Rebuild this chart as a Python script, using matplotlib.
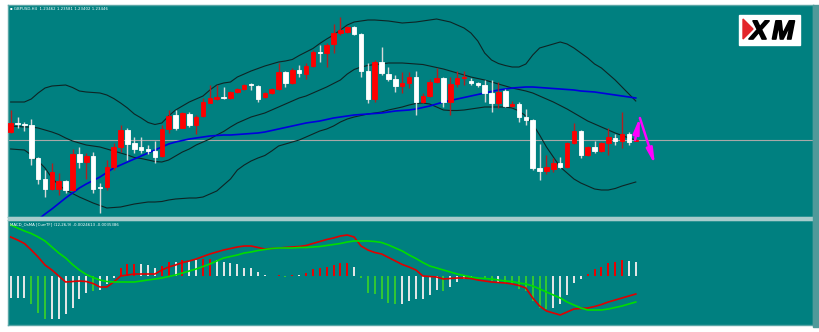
# -*- coding: utf-8 -*-
# GBPUSD H4 con Bollinger, media lenta y MACD_OsMA (estilo MT4)
import numpy as np
import matplotlib.pyplot as plt
from matplotlib.patches import Rectangle, Polygon
import matplotlib.patheffects as pe

#==============================================================================
#- datos (precios en pips sobre 1.20000)
#==============================================================================
opens = [353, 362, 361, 360, 327, 306, 296, 296, 304, 295,
         331, 323, 329, 298, 298, 318, 338, 355, 342, 338,
         336, 334, 329, 356, 370, 357, 371, 360, 369, 382,
         386, 388, 387, 393, 396, 401, 399, 388, 392, 396,
         413, 402, 415, 411, 419, 433, 432, 441, 452, 453,
         458, 451, 414, 386, 423, 411, 406, 399, 402, 408,
         383, 389, 403, 407, 383, 401, 407, 404, 402, 400,
         392, 382, 394, 379, 381, 368, 365, 317, 314, 316,
         322, 318, 342, 354, 330, 338, 334, 342, 347, 344, 351, 344]
highs = [375, 368, 363, 366, 328, 315, 322, 312, 305, 336,
         338, 332, 333, 302, 325, 342, 360, 357, 348, 348,
         340, 344, 360, 375, 375, 373, 373, 370, 387, 400,
         400, 398, 394, 397, 401, 402, 400, 393, 397, 422,
         414, 417, 420, 422, 435, 440, 442, 461, 468, 459,
         459, 452, 422, 425, 438, 418, 410, 413, 413, 414,
         392, 406, 417, 408, 408, 414, 414, 407, 403, 405,
         405, 403, 396, 384, 383, 376, 366, 341, 330, 327,
         328, 343, 362, 355, 339, 344, 343, 357, 351, 373, 353, 346]
lows = [352, 357, 354, 320, 301, 288, 295, 290, 292, 294,
        317, 306, 292, 272, 295, 315, 333, 325, 332, 332,
        331, 322, 328, 352, 355, 357, 358, 351, 368, 382,
        385, 386, 386, 392, 395, 395, 383, 387, 391, 395,
        398, 401, 408, 406, 418, 423, 418, 432, 450, 452,
        450, 408, 382, 383, 410, 404, 393, 392, 397, 370,
        382, 388, 402, 378, 370, 398, 400, 400, 398, 383,
        373, 377, 378, 378, 363, 360, 315, 305, 311, 313,
        317, 317, 341, 327, 329, 332, 333, 330, 340, 337, 340, 344]
closes = [362, 361, 360, 327, 306, 296, 313, 304, 295, 331,
          323, 329, 296, 297, 318, 338, 355, 341, 336, 335,
          334, 328, 356, 369, 357, 372, 360, 368, 383, 387,
          387.5, 387, 393, 396, 400, 400, 386, 392, 396, 413,
          402, 415, 412, 419, 433, 432, 440, 452, 455, 458,
          451, 414, 386, 423, 412, 406, 399, 402, 408, 383,
          389, 403, 407, 383, 401, 407, 408, 402, 400, 392,
          382, 393, 379, 381, 368, 365, 317, 314, 318, 322,
          318, 342, 354, 330, 338, 334, 342, 348, 344, 351, 343, 345]

bb_upper = [383, 383, 383, 386, 392, 397, 399, 399.5, 400, 397.5,
            394, 393, 392.5, 392, 390, 386.5, 382, 377, 371, 367,
            362.5, 360.5, 362, 369, 375, 379, 383, 386, 389, 395,
            400, 402, 403, 408, 411, 414, 416.5, 419, 421, 423,
            424, 425.5, 429.5, 433, 436.5, 441.5, 446, 450, 455, 460,
            463, 464, 465, 465, 464.5, 464, 463, 462, 462.5, 463,
            464, 465, 466, 464.5, 463, 460, 457, 452, 444, 432,
            425, 421.5, 419.5, 418, 418, 421, 430, 437, 439, 441,
            443, 441, 437, 432, 427, 421, 417, 411, 405, 398, 391, 384]
bb_mid = [359, 358.5, 358, 358, 357, 355, 353, 350.5, 347, 344,
          342, 340, 339, 338, 336, 334, 332, 330, 327.5, 326.5,
          325, 323.5, 323, 325, 329, 333, 336, 340, 343, 346,
          350, 353.5, 358, 362, 365, 368, 370, 372, 375, 378,
          381, 384, 387, 389, 392, 395, 398, 401.5, 405, 411,
          415.5, 418, 419.5, 420.5, 421, 422, 422, 422, 421.5, 421,
          420.5, 419, 417.5, 416, 414, 412, 410, 408, 406.5, 405,
          403, 401, 399, 397, 395.5, 394, 392, 389, 386, 383,
          379.5, 376, 372, 368, 364, 361, 358, 355, 352, 349.5, 347, 345]
bb_lower = [336, 335.5, 335, 330, 324, 317, 307, 300, 295, 291.5,
            288, 285, 282, 279.5, 277, 277.5, 278, 279.5, 281, 282,
            283, 283, 283.5, 285, 286, 286.5, 287, 287, 288, 291,
            294, 300, 306, 315, 320, 324, 327, 329.5, 334, 339,
            341, 343, 345, 348, 351, 354, 356, 359, 363, 366,
            368, 369.5, 371, 372, 373, 375, 376.5, 378, 380, 381.5,
            382, 381, 378, 375, 374.5, 374.5, 375, 376, 377, 378,
            378, 378, 378, 377, 374, 369, 361, 350, 338, 328,
            318, 312, 306, 302, 299, 296, 295, 295, 296.5, 299, 301, 303]
ma_slow = [244, 249, 255, 260, 265.5, 271, 276, 281.5, 287, 292,
           297, 301, 304.5, 308, 312.5, 317, 320, 323, 326, 329,
           332, 335, 338, 341, 343, 344.5, 346, 347, 348, 349,
           349.5, 350, 350, 350.5, 351, 351.5, 352, 353, 354.5, 356,
           357.5, 359, 360.5, 362, 363, 364, 365.5, 367, 368, 369,
           370, 370.5, 371, 371.5, 372, 373, 374, 374.5, 375, 376,
           377.5, 379, 381, 383, 384.5, 386, 387.5, 389, 390.5, 392,
           393.5, 395, 396, 397, 397.5, 398, 398, 397.5, 397, 396.5,
           396, 395.5, 395, 394, 393.5, 393, 392, 391, 390, 389, 388, 387]

# MACD_OsMA (12,26,9) en unidades de 0.0001
macd_main = [39, 36, 32.5, 26, 19, 11, 6, 0, -6, -5.5,
             -5, -5.5, -7.5, -11, -11, -6, 0, 1, 2, 2,
             2, 2, 6, 9, 11, 13.5, 15, 17, 19.5, 22,
             24, 26, 27.5, 29, 30, 30, 28.5, 27, 27.5, 28,
             28.5, 29, 29.5, 30.5, 32.5, 34.5, 36.5, 38, 40, 41,
             39, 30, 26, 23.5, 22, 18.5, 15, 11.5, 9, 6,
             0, -0.5, -1, -3, -2.5, -2, -2, -2.5, -4, -5,
             -6, -6.5, -7, -8, -9.5, -12, -22, -30, -35, -37,
             -39, -36, -33, -32.5, -32, -30.5, -28.5, -26, -24, -22, -20, -18]
macd_signal = [51, 48, 45, 42.5, 39, 35, 29, 23, 18, 11.5,
               6, 1.5, -1.5, -4, -5.5, -6, -6, -6, -6, -5,
               -4, -3, -2, -0.5, 1, 3, 5, 7, 9.5, 12,
               15, 18, 19.5, 21, 23, 24, 25.5, 26.5, 27.5, 28,
               28, 28, 28.5, 28.5, 29, 29.5, 30.5, 31.5, 32.5, 34,
               35, 35, 35, 34.5, 33.5, 31, 28, 25, 21, 17.5,
               13.5, 10, 8, 6, 4, 2, 0.5, -1, -2, -2.5,
               -3, -4, -5, -5.5, -7, -8, -10, -13, -16, -19,
               -22, -26, -29, -32, -34, -34, -34, -33, -31.5, -30, -28, -26]
osma = [-22, -22, -22, -28, -37, -43, -43, -43, -38, -32,
        -23, -17, -15, -14, -8, -2, 8, 12, 12, 12,
        11, 8, 10, 14, 14, 16, 15, 16, 17, 17,
        16, 14, 13, 12, 8, 8, 4, 1, 0.5, 1,
        -0.5, 1.5, 1.5, 3, 7, 8, 9, 11, 13, 13,
        9, -2, -17, -18, -23, -27, -28, -28, -25, -23,
        -23, -19, -14, -15, -11, -6, -3, -1, 0.5, -3,
        -5, -6, -7, -8, -13, -15, -25, -32, -33, -32,
        -28, -19, -7, -3, 2, 7, 9, 13, 14, 16, 15, 14]
osma_tipo = list('WWWGGGWWWW' 'WWGWWWRRRW' 'WWRRWRWWRR' 'WWWWWWWWGR'
                 'GRWRRRRRRR' 'WGGGGGGWWW' 'WWWGWWWWWG' 'GWGGGGGGGW'
                 'WWWWRRRRRRWW')

# flechas de pronostico (indice de barra, pips)
flecha_x = [90.9, 91.6, 93.8]
flecha_p = [345, 368, 320]

titulo = 'GBPUSD,H4  1.23462 1.23581 1.23402 1.23446'
titulo_macd = 'MACD_OsMA [CurrTF] (12,26,9) -0.0024613 -0.0035386'

#==============================================================================
#- figura
#==============================================================================
def precio(a):
    return 1.2 + np.asarray(a, dtype=float) / 1e4

o, h, l, c = precio(opens), precio(highs), precio(lows), precio(closes)
x = np.arange(len(opens))
teal = '#008080'
borde = '#5aa6a6'
W, H = 819, 332

fig = plt.figure(figsize=(W / 100, H / 100), dpi=100, facecolor='white')
ax = fig.add_axes([8 / W, 1 - 217 / H, 805 / W, 212 / H], facecolor=teal)
ax2 = fig.add_axes([8 / W, 1 - 325 / H, 805 / W, 105 / H], facecolor=teal)

for a in (ax, ax2):
    a.set_xlim(-0.39, 116.8)
    a.set_xticks([])
    a.set_yticks([])
    for s in a.spines.values():
        s.set_color(borde)
        s.set_linewidth(1)

# separador entre paneles y franja derecha
fig.patches.append(Rectangle((8 / W, 1 - 220 / H), 805 / W, 3 / H,
                             transform=fig.transFigure, color='#a6cccc'))
fig.patches.append(Rectangle((813 / W, 1 - 327 / H), 6 / W, 322 / H,
                             transform=fig.transFigure, color='#4f9a9a'))

#- velas
ax.set_ylim(precio(268), precio(480))
ax.axhline(c[-1], color='#a8a8a8', lw=0.8, zorder=0.5)
sube = c >= o
col_cuerpo = np.where(sube, '#ff0000', '#ffffff')
col_mecha = np.where(sube, '#b02020', '#d8d8d8')
ax.vlines(x, l, h, colors=col_mecha, lw=1, zorder=2)
ax.bar(x, c - o, bottom=o, width=0.66, color=col_cuerpo, edgecolor=col_cuerpo,
       linewidth=0.6, zorder=3)

#- bandas y media
for banda in (bb_upper, bb_mid, bb_lower):
    ax.plot(x, precio(banda), color='#0e2424', lw=0.8, zorder=1)
ax.plot(x, precio(ma_slow), color='#0000dd', lw=1.2, zorder=1.5)

#- flechas
ap = dict(arrowstyle='-|>,head_length=1.0,head_width=0.2', color='#ff00ff',
          lw=1.8, mutation_scale=9, shrinkA=0, shrinkB=0)
ax.annotate('', xy=(flecha_x[1], precio(flecha_p[1])),
            xytext=(flecha_x[0], precio(flecha_p[0])), arrowprops=ap, zorder=5)
ax.annotate('', xy=(flecha_x[2], precio(flecha_p[2])),
            xytext=(flecha_x[1], precio(flecha_p[1] - 1)), arrowprops=ap, zorder=5)

#- MACD
ax2.set_ylim(-49e-4, 56e-4)
colores = {'W': '#e8e8e8', 'G': '#32c832', 'R': '#ee0000'}
ax2.vlines(x, 0, np.array(osma) / 1e4, colors=[colores[t] for t in osma_tipo], lw=1.4)
ax2.plot(x, np.array(macd_main) / 1e4, color='#e00000', lw=1.2)
ax2.plot(x, np.array(macd_signal) / 1e4, color='#00dd00', lw=1.2)

#- textos
fig.text(10 / W, 1 - 9 / H, '\u25aa ' + titulo, color='white', fontsize=2.8,
         va='center', ha='left')
fig.text(10 / W, 1 - 224 / H, titulo_macd, color='white', fontsize=2.8,
         va='center', ha='left')

#- logo XM
fig.patches.append(Rectangle((739 / W, 1 - 45 / H), 61 / W, 30 / H,
                             transform=fig.transFigure, color='white', zorder=4))
fig.patches.append(Polygon([(743 / W, 1 - 19 / H), (753 / W, 1 - 29 / H), (743 / W, 1 - 39 / H)],
                           closed=True, transform=fig.transFigure, color='#e3262b', zorder=5))
efecto = [pe.withStroke(linewidth=1.2, foreground='black')]
fig.text(759 / W, 1 - 39 / H, 'X', ha='center', va='baseline', fontsize=19,
         fontweight='bold', fontstyle='italic', family='Liberation Sans',
         color='black', zorder=6, path_effects=efecto)
fig.text(783 / W, 1 - 39 / H, 'M', ha='center', va='baseline', fontsize=19,
         fontweight='bold', fontstyle='italic', family='Liberation Sans',
         color='black', zorder=6, path_effects=efecto)

fig.savefig('out.png', dpi=100, facecolor=fig.get_facecolor())
